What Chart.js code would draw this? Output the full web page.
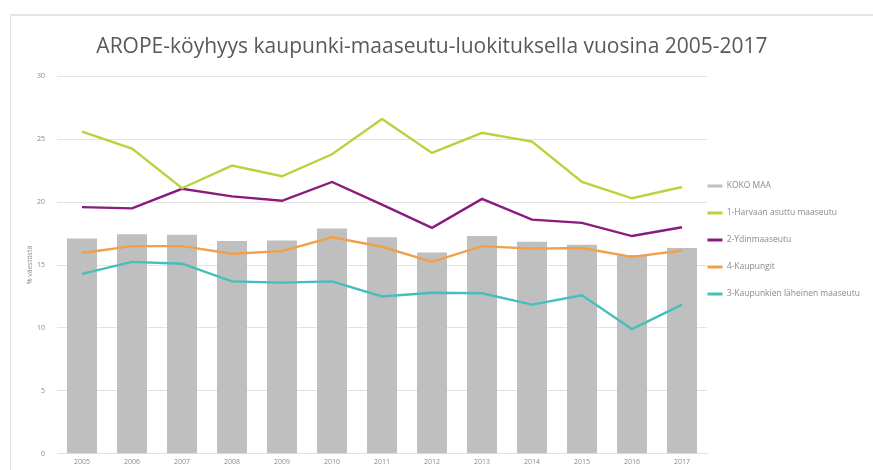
<!DOCTYPE html>
<html>
<head>
<meta charset="utf-8">
<script src="https://cdn.jsdelivr.net/npm/chart.js@4/dist/chart.umd.min.js"></script>
<style>
  body { margin:0; background:#fff; }
  #wrap { position:relative; width:873px; height:470px; }
  #frame { position:absolute; left:10px; top:14px; right:-2px; bottom:-2px; border-left:1px solid #e4e4e4; border-top:2px solid #e4e4e4; }
  canvas { position:absolute; left:0; top:0; }
</style>
</head>
<body>
<div id="wrap">
  <div id="frame"></div>
  <canvas id="chart" width="873" height="470"></canvas>
</div>
<script>
const years = ['2005','2006','2007','2008','2009','2010','2011','2012','2013','2014','2015','2016','2017'];
const kokoMaa = [17.1,17.45,17.4,16.9,16.95,17.9,17.2,16.0,17.3,16.85,16.6,15.8,16.35];
const harvaan = [25.6,24.25,21.1,22.9,22.05,23.8,26.6,23.9,25.5,24.8,21.6,20.3,21.2];
const ydin = [19.6,19.5,21.05,20.45,20.1,21.6,19.8,17.95,20.25,18.6,18.35,17.3,18.0];
const kaupungit = [15.95,16.5,16.5,15.9,16.1,17.2,16.45,15.25,16.5,16.3,16.35,15.65,16.15];
const lahimaaseutu = [14.3,15.25,15.1,13.7,13.6,13.7,12.5,12.8,12.75,11.85,12.6,9.9,11.85];

const font = "'Open Sans', sans-serif";
const textGray = '#8a8a8a';

function line(label, data, color){
  return { type:'line', label, data, borderColor:color, backgroundColor:color, borderWidth:2.4,
           pointRadius:0, tension:0, order:0 };
}

// legend sits tight against the plot, like the original; keep its width small and nudge the drawing
const legendNudge = {
  id:'legendNudge',
  afterInit(chart){
    const lg = chart.legend;
    const fit = lg.fit;
    lg.fit = function(){ fit.call(this); this.width = 149; };
    const draw = lg.draw;
    lg.draw = function(){
      this.left -= 18; this.right += 16; this.top -= 12; this.bottom -= 12;
      draw.call(this);
      this.left += 18; this.right -= 16; this.top += 12; this.bottom += 12;
    };
  }
};

new Chart(document.getElementById('chart').getContext('2d'), {
  data: {
    labels: years,
    datasets: [
      { type:'bar', label:'KOKO MAA', data:kokoMaa, backgroundColor:'#bfbfbf', order:1,
        barPercentage:0.6, categoryPercentage:1.0 },
      line('1-Harvaan asuttu maaseutu', harvaan, '#b8d43c'),
      line('2-Ydinmaaseutu', ydin, '#8a1a7e'),
      line('4-Kaupungit', kaupungit, '#f0a04a'),
      line('3-Kaupunkien läheinen maaseutu', lahimaaseutu, '#45bfbb')
    ]
  },
  plugins:[legendNudge],
  options: {
    responsive:false,
    animation:false,
    layout:{ padding:{ left:8, right:17, top:34, bottom:0 } },
    plugins:{
      title:{ display:true, text:'AROPE-köyhyys kaupunki-maaseutu-luokituksella vuosina 2005-2017',
              color:'#595959', font:{ family:font, size:21, weight:'normal' }, padding:{ top:0, bottom:17 } },
      legend:{ position:'right', align:'center',
        labels:{ color:textGray, font:{ family:font, size:8.5 }, boxWidth:15, boxHeight:3, padding:18.5,
          generateLabels(chart){
            return chart.data.datasets.map((ds, i) => ({
              text:ds.label, datasetIndex:i, fillStyle:ds.backgroundColor, strokeStyle:ds.backgroundColor,
              lineWidth:0, fontColor:textGray, hidden:false
            }));
          } } },
      tooltip:{ enabled:false }
    },
    scales:{
      x:{ grid:{ display:false, drawTicks:false }, border:{ color:'#e0e0e0' },
          ticks:{ color:textGray, font:{ family:font, size:7 }, padding:4 },
          afterFit(scale){ scale.height = 13; } },
      y:{ min:0, max:30, ticks:{ stepSize:5, color:textGray, font:{ family:font, size:7 }, padding:12 },
          grid:{ color:'#e3e3e3', drawTicks:false }, border:{ display:false },
          title:{ display:true, text:'% väestöstä', color:textGray, font:{ family:font, size:7 }, padding:{ top:18, bottom:3 } },
          afterFit(scale){ scale.width = 49; } }
    }
  }
});
</script>
</body>
</html>
